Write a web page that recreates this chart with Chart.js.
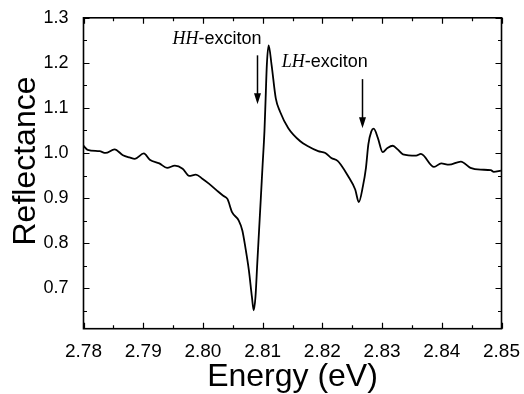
<!DOCTYPE html>
<html>
<head>
<meta charset="utf-8">
<script src="https://cdn.jsdelivr.net/npm/chart.js@4.4.1/dist/chart.umd.min.js"></script>
<style>
  body { margin: 0; background: #fff; }
</style>
</head>
<body>
<canvas id="myChart" width="524" height="394"></canvas>
<script>
// reflectance spectrum
const energy = [
  2.7800, 2.7807, 2.7827, 2.7837, 2.7852, 2.7866, 2.7877, 2.7886, 2.7901, 2.7911,
  2.7927, 2.7940, 2.7953, 2.7966, 2.7977, 2.7988, 2.7999, 2.8010, 2.8024, 2.8034,
  2.8041, 2.8049, 2.8060, 2.8066, 2.8071, 2.8077, 2.8082, 2.8085, 2.8088, 2.8091,
  2.8094, 2.8097, 2.8100, 2.8103, 2.8105, 2.8107, 2.8110, 2.8115, 2.8122, 2.8129,
  2.8143, 2.8163, 2.8176, 2.8193, 2.8205, 2.8215, 2.8226, 2.8231, 2.8243, 2.8255,
  2.8261, 2.8268, 2.8273, 2.8277, 2.8282, 2.8286, 2.8293, 2.8301, 2.8309, 2.8318,
  2.8326, 2.8335, 2.8357, 2.8365, 2.8387, 2.8399, 2.8412, 2.8432, 2.8448, 2.8465,
  2.8482, 2.8487, 2.8499
];
const reflectance = [
  1.016, 1.007, 1.004, 1.000, 1.008, 0.995, 0.990, 0.987, 0.999, 0.985,
  0.977, 0.967, 0.972, 0.965, 0.949, 0.952, 0.943, 0.932, 0.916, 0.905,
  0.898, 0.868, 0.850, 0.828, 0.791, 0.739, 0.681, 0.651, 0.681, 0.755,
  0.828, 0.901, 0.975, 1.048, 1.121, 1.195, 1.239, 1.195, 1.121, 1.092,
  1.055, 1.026, 1.015, 1.004, 1.000, 0.989, 0.982, 0.974, 0.949, 0.919,
  0.891, 0.927, 0.967, 1.019, 1.048, 1.054, 1.033, 1.002, 1.011, 1.016,
  1.008, 0.997, 0.994, 0.998, 0.969, 0.977, 0.974, 0.981, 0.967, 0.963,
  0.962, 0.958, 0.961
];

const xTicks = [2.78, 2.79, 2.80, 2.81, 2.82, 2.83, 2.84, 2.85];
const yTicks = [0.7, 0.8, 0.9, 1.0, 1.1, 1.2, 1.3];

// arrows and labels, in data units
const notes = [
  { italic: 'HH', text: '-exciton', x: 2.7949, y: 1.2423, ax: 2.8091, ay0: 1.2167, ay1: 1.108 },
  { italic: 'LH', text: '-exciton', x: 2.8132, y: 1.1903, ax: 2.8266, ay0: 1.1639, ay1: 1.055 }
];

let canvasChart = document.getElementById('myChart').getContext('2d');

function minorList(first, last, step) {
  let out = [];
  for (let v = first; v <= last + 1e-9; v += step) out.push({ value: +v.toFixed(4) });
  return out;
}

function isMajor(v, list) {
  return list.some(t => Math.abs(t - v) < 1e-6);
}

const framePlugin = {
  id: 'frame',
  afterDraw(chart) {
    const ctx = chart.ctx;
    const a = chart.chartArea;
    const xs = chart.scales.x;
    const ys = chart.scales.y;
    ctx.save();
    ctx.strokeStyle = '#000';
    ctx.lineWidth = 1.6;
    ctx.strokeRect(a.left, a.top, a.right - a.left, a.bottom - a.top);

    // inward ticks on all four sides
    ctx.lineWidth = 1.2;
    ctx.beginPath();
    xs.ticks.forEach(t => {
      const px = Math.round(xs.getPixelForValue(t.value)) + 0.5;
      const len = isMajor(t.value, xTicks) ? 6 : 3.5;
      ctx.moveTo(px, a.bottom); ctx.lineTo(px, a.bottom - len);
      ctx.moveTo(px, a.top); ctx.lineTo(px, a.top + len);
    });
    ys.ticks.forEach(t => {
      const py = Math.round(ys.getPixelForValue(t.value)) + 0.5;
      const len = isMajor(t.value, yTicks) ? 6 : 3.5;
      ctx.moveTo(a.left, py); ctx.lineTo(a.left + len, py);
      ctx.moveTo(a.right, py); ctx.lineTo(a.right - len, py);
    });
    ctx.stroke();

    // axis titles
    ctx.fillStyle = '#000';
    ctx.font = '32px "Liberation Sans", Arial, sans-serif';
    ctx.textAlign = 'center';
    ctx.textBaseline = 'alphabetic';
    ctx.fillText('Energy (eV)', (a.left + a.right) / 2, 386);
    ctx.save();
    ctx.translate(35, 161);
    ctx.rotate(-Math.PI / 2);
    ctx.fillText('Reflectance', 0, 0);
    ctx.restore();

    // exciton labels + arrows
    notes.forEach(n => {
      const tx = xs.getPixelForValue(n.x);
      const ty = ys.getPixelForValue(n.y);
      ctx.textAlign = 'left';
      ctx.font = 'italic 18px "Liberation Serif", "Times New Roman", serif';
      ctx.fillText(n.italic, tx, ty);
      const w = ctx.measureText(n.italic).width;
      ctx.font = '18px "Liberation Sans", Arial, sans-serif';
      ctx.fillText(n.text, tx + w, ty);

      const ax = Math.round(xs.getPixelForValue(n.ax)) + 0.5;
      const y0 = ys.getPixelForValue(n.ay0);
      const y1 = ys.getPixelForValue(n.ay1);
      ctx.beginPath();
      ctx.lineWidth = 1.5;
      ctx.moveTo(ax, y0); ctx.lineTo(ax, y1 - 8);
      ctx.stroke();
      ctx.beginPath();
      ctx.moveTo(ax, y1);
      ctx.lineTo(ax - 3.5, y1 - 11);
      ctx.lineTo(ax + 3.5, y1 - 11);
      ctx.closePath();
      ctx.fill();
    });
    ctx.restore();
  }
};

const data = {
  datasets: [{
    label: 'Reflectance',
    data: energy.map((e, i) => ({ x: e, y: reflectance[i] })),
    borderColor: '#000',
    borderWidth: 1.8,
    pointRadius: 0,
    showLine: true,
    cubicInterpolationMode: 'monotone',
    fill: false
  }]
};

const config = {
  type: 'scatter',
  data: data,
  options: {
    responsive: false,
    animation: false,
    layout: { padding: { top: 15.5, right: 19.3, left: 0, bottom: 0 } },
    plugins: {
      legend: { display: false },
      tooltip: { enabled: false }
    },
    scales: {
      x: {
        type: 'linear',
        min: 2.78,
        max: 2.85,
        afterFit: s => { s.height = 65.3; },
        afterBuildTicks: s => { s.ticks = minorList(2.78, 2.85, 0.005); },
        grid: { display: false },
        border: { display: false },
        ticks: {
          autoSkip: false,
          maxRotation: 0,
          padding: 4,
          color: '#000',
          font: { family: '"Liberation Sans", Arial, sans-serif', size: 19 },
          callback: v => isMajor(v, xTicks) ? v.toFixed(2) : ''
        }
      },
      y: {
        min: 0.61,
        max: 1.3,
        afterFit: s => { s.width = 83.5; },
        afterBuildTicks: s => { s.ticks = minorList(0.65, 1.3, 0.05); },
        grid: { display: false },
        border: { display: false },
        ticks: {
          autoSkip: false,
          padding: 7,
          color: '#000',
          font: { family: '"Liberation Sans", Arial, sans-serif', size: 18 },
          callback: v => isMajor(v, yTicks) ? v.toFixed(1) : ''
        }
      }
    }
  },
  plugins: [framePlugin]
};

let myChart = new Chart(canvasChart, config);
</script>
</body>
</html>
